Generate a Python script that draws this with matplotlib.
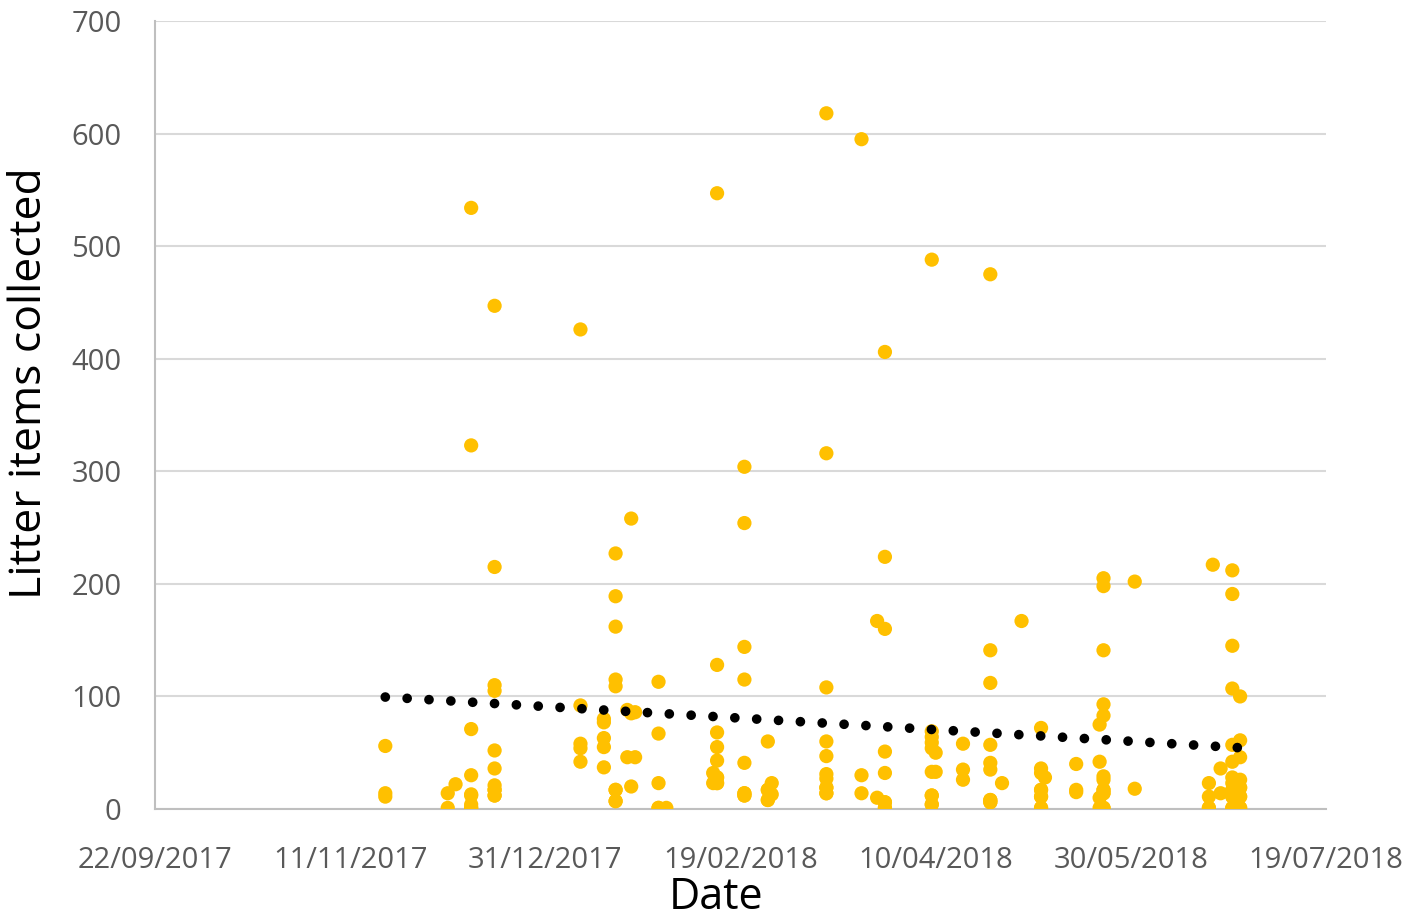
import matplotlib
matplotlib.use("Agg")
import matplotlib.pyplot as plt
import matplotlib.dates as mdates
import numpy as np
import pandas as pd

# ---- data (low values overlap heavily) ----
dates = (
    ["2017-11-20"] * 3 + ["2017-12-06"] * 2 + ["2017-12-08"] +
    ["2017-12-12"] * 9 + ["2017-12-18"] * 11 +
    ["2018-01-09"] * 5 + ["2018-01-15"] * 5 + ["2018-01-18"] * 9 +
    ["2018-01-21"] * 2 + ["2018-01-22"] * 3 + ["2018-01-23"] * 2 +
    ["2018-01-29"] * 5 + ["2018-01-31"] +
    ["2018-02-12"] * 2 + ["2018-02-13"] * 9 + ["2018-02-20"] * 9 +
    ["2018-02-26"] * 5 + ["2018-02-27"] * 2 +
    ["2018-03-13"] * 11 + ["2018-03-22"] * 3 + ["2018-03-26"] * 2 +
    ["2018-03-28"] * 9 + ["2018-04-09"] * 10 + ["2018-04-10"] * 2 +
    ["2018-04-17"] * 3 + ["2018-04-24"] * 10 + ["2018-04-27"] +
    ["2018-05-02"] + ["2018-05-07"] * 9 + ["2018-05-08"] +
    ["2018-05-16"] * 3 + ["2018-05-22"] * 4 + ["2018-05-23"] * 13 +
    ["2018-05-31"] * 2 + ["2018-06-19"] * 4 + ["2018-06-20"] +
    ["2018-06-22"] * 2 + ["2018-06-25"] * 14 + ["2018-06-27"] * 10
)
litter = (
    [56, 14, 11] + [14, 1] + [22] +
    [534, 323, 71, 30, 13, 12, 4, 1, 1] + [447, 215, 110, 105, 52, 36, 21, 17, 17, 12, 12] +
    [426, 92, 58, 54, 42] + [80, 77, 63, 55, 37] + [227, 189, 162, 115, 109, 17, 17, 7, 7] +
    [88, 46] + [258, 85, 20] + [86, 46] +
    [113, 67, 23, 1, 1] + [1] +
    [32, 23] + [547, 128, 68, 55, 43, 28, 28, 23, 23] + [304, 254, 144, 115, 41, 14, 14, 12, 12] +
    [60, 17, 17, 8, 8] + [23, 13] +
    [618, 316, 108, 60, 47, 31, 27, 19, 19, 14, 14] + [595, 30, 14] + [167, 10] +
    [406, 224, 160, 51, 32, 6, 6, 1, 1] + [488, 69, 64, 59, 54, 33, 12, 12, 4, 4] + [50, 33] +
    [58, 35, 26] + [475, 141, 112, 57, 41, 35, 8, 8, 6, 6] + [23] +
    [167] + [72, 36, 32, 17, 17, 11, 11, 1, 1] + [28] +
    [40, 17, 15] + [75, 42, 10, 1] + [205, 198, 141, 93, 83, 29, 26, 17, 17, 14, 14, 1, 1] +
    [202, 18] + [23, 11, 1, 1] + [217] +
    [36, 14] + [212, 191, 145, 107, 57, 42, 28, 23, 17, 17, 11, 11, 1, 1] +
    [100, 61, 46, 26, 19, 19, 11, 11, 1, 1]
)
x_ticks = ["2017-09-22", "2017-11-11", "2017-12-31", "2018-02-19",
           "2018-04-10", "2018-05-30", "2018-07-19"]
y_ticks = [0, 100, 200, 300, 400, 500, 600, 700]

# ---- figure ----
plt.rcParams['font.family'] = ['Open Sans', 'DejaVu Sans']
fig = plt.figure(figsize=(14.04, 9.22), dpi=100)
ax = fig.add_axes([155/1404, 1 - 809/922, (1326-155)/1404, (809-21)/922])

d = pd.to_datetime(dates)
xn = mdates.date2num(d)
ax.scatter(d, litter, s=105, color="#FFC000", edgecolors="none", zorder=3)

# linear trendline over the data range
coef = np.polyfit(xn, litter, 1)
xt = np.array([xn.min(), xn.max()])
ax.plot(mdates.num2date(xt), np.polyval(coef, xt), color="black",
        linewidth=7, linestyle=(0, (0.001, 2.25)), dash_capstyle="round", zorder=4)

xt_dates = pd.to_datetime(x_ticks)
ax.set_xlim(xt_dates[0], xt_dates[-1])
ax.set_xticks(xt_dates)
ax.set_xticklabels([t.strftime("%d/%m/%Y") for t in xt_dates])
ax.set_ylim(0, 700)
ax.set_yticks(y_ticks)

ax.yaxis.grid(True, color="#D9D9D9", linewidth=1.5, zorder=0)
ax.set_axisbelow(True)
for s in ["top", "right"]:
    ax.spines[s].set_visible(False)
for s in ["left", "bottom"]:
    ax.spines[s].set_color("#BFBFBF")
    ax.spines[s].set_linewidth(1.5)
ax.tick_params(axis="both", length=0, labelsize=21, labelcolor="#595959")
ax.tick_params(axis="x", pad=27)
ax.tick_params(axis="y", pad=24)

fig.text(716/1404, 1 - 920/922, "Date", ha="center", va="bottom",
         fontsize=31, color="black")
fig.text(30/1404, 1 - 383/922, "Litter items collected", ha="center", va="center",
         rotation=90, fontsize=32, color="black")

fig.savefig("out.png", dpi=100)
